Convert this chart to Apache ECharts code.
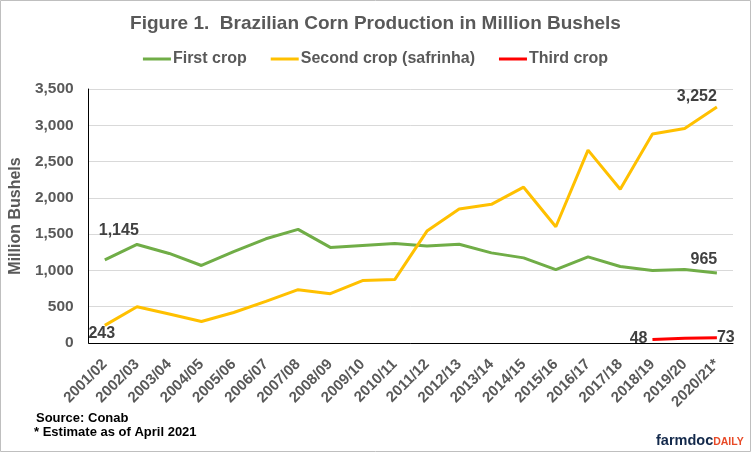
<!DOCTYPE html>
<html><head><meta charset="utf-8">
<script src="https://cdn.jsdelivr.net/npm/echarts@6/dist/echarts.min.js"></script>
<style>html,body{margin:0;padding:0;background:#fff}#c{width:751px;height:452px}</style>
</head><body><div id="c"></div>
<script>
const categories = ['2001/02','2002/03','2003/04','2004/05','2005/06','2006/07','2007/08','2008/09','2009/10','2010/11','2011/12','2012/13','2013/14','2014/15','2015/16','2016/17','2017/18','2018/19','2019/20','2020/21*'];
const firstCrop = [1145,1358,1234,1068,1258,1436,1566,1317,1344,1372,1335,1360,1242,1173,1012,1187,1054,998,1012,965];
const secondCrop = [243,500,400,297,420,574,735,680,860,874,1542,1846,1911,2147,1602,2658,2119,2880,2957,3252];
const thirdCrop = [null,null,null,null,null,null,null,null,null,null,null,null,null,null,null,null,null,48,66,73];
const yTicks = [0,500,1000,1500,2000,2500,3000,3500];

const FONT = '"Liberation Sans",Arial,sans-serif';
const lblStyle = {show:true, fontFamily:FONT, fontWeight:'bold', fontSize:16, color:'#404040',
  formatter: p => p.value.toLocaleString('en-US')};

function withLabels(arr, spec){
  return arr.map((v,i) => spec[i] ? {value:v, label:Object.assign({}, lblStyle, spec[i])} : v);
}
const lineBase = {type:'line', symbol:'circle', symbolSize:0, showSymbol:true, showAllSymbol:true, label:{show:false}};

const chart = echarts.init(document.getElementById('c'));
chart.setOption({
  animation:false,
  title:{text:'Figure 1.  Brazilian Corn Production in Million Bushels', left:'center', top:9,
    textStyle:{fontFamily:FONT, fontWeight:'bold', fontSize:19, color:'#595959'}},
  legend:{top:46, left:'center', itemWidth:28, itemHeight:3, itemGap:24, icon:'rect',
    textStyle:{fontFamily:FONT, fontWeight:'bold', fontSize:16, color:'#595959', padding:[0,0,0,-3]},
    data:['First crop','Second crop (safrinha)','Third crop']},
  grid:{left:86, right:18, top:89, bottom:109},
  xAxis:{type:'category', data:categories, boundaryGap:true,
    axisLine:{lineStyle:{color:'#000', width:1}}, axisTick:{show:false},
    axisLabel:{rotate:45, interval:0, fontFamily:FONT, fontWeight:'bold', fontSize:15, color:'#595959', margin:19}},
  yAxis:{type:'value', min:yTicks[0], max:yTicks[yTicks.length-1], interval:500,
    name:'Million Bushels', nameLocation:'middle', nameGap:56, nameRotate:90,
    nameTextStyle:{fontFamily:FONT, fontWeight:'bold', fontSize:16, color:'#595959'},
    axisLine:{show:true, lineStyle:{color:'#000', width:1}}, axisTick:{show:false},
    splitLine:{lineStyle:{color:'#d9d9d9', width:1}},
    axisLabel:{fontFamily:FONT, fontWeight:'bold', fontSize:15.5, color:'#595959', margin:15,
      formatter: v => v.toLocaleString('en-US')}},
  series:[
    Object.assign({}, lineBase, {name:'First crop', color:'#70ad47', lineStyle:{width:3, color:'#70ad47'},
     data: withLabels(firstCrop, {0:{position:'top', distance:5, offset:[14,-16]}, 19:{position:'top', distance:5, offset:[-13,0]}})}),
    Object.assign({}, lineBase, {name:'Second crop (safrinha)', color:'#ffc000', lineStyle:{width:3, color:'#ffc000'},
     data: withLabels(secondCrop, {0:{position:'bottom', distance:5, offset:[-3,-5]}, 19:{position:'top', distance:5, offset:[-20,3]}})}),
    Object.assign({}, lineBase, {name:'Third crop', color:'#ff0000', lineStyle:{width:3, color:'#ff0000'},
     data: withLabels(thirdCrop, {17:{position:'left', distance:5, offset:[0,-1]}, 19:{position:'right', distance:5, offset:[-5,0]}})})
  ],
  graphic:[
    {type:'rect', shape:{x:0.5, y:0.5, width:750, height:451}, style:{fill:'none', stroke:'#bfbfbf', lineWidth:1}, z:-1},
    {type:'text', left:36, top:412, style:{text:'Source: Conab', font:'bold 13px '+FONT, fill:'#000'}},
    {type:'text', left:34, top:426, style:{text:'* Estimate as of April 2021', font:'bold 13px '+FONT, fill:'#000'}},
    {type:'text', left:656, top:433, style:{text:'{a|farmdoc}{b|DAILY}',
      rich:{a:{font:'bold 14.5px '+FONT, fill:'#13294b'},
            b:{font:'bold 10.5px '+FONT, fill:'#e84a27', padding:[3,0,0,0]}}}}
  ]
});
</script></body></html>
